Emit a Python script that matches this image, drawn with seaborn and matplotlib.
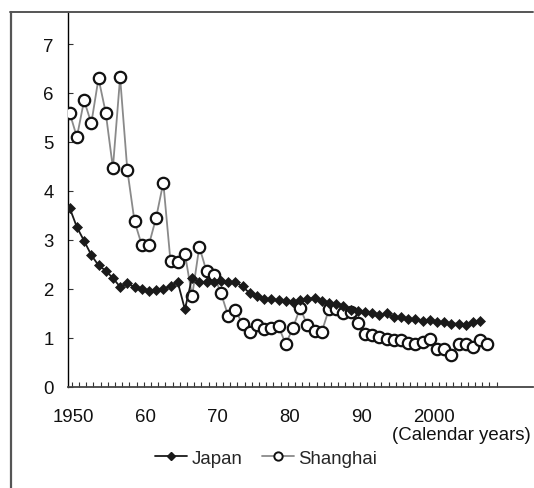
import matplotlib
matplotlib.use("Agg")
import matplotlib.pyplot as plt
import matplotlib.transforms as mtransforms
from matplotlib.lines import Line2D
import numpy as np
import pandas as pd
import seaborn as sns

# Total fertility rate by calendar year
japan_years = list(range(1950, 2008))
japan_tfr = [3.65, 3.26, 2.98, 2.69, 2.48, 2.37, 2.22, 2.04, 2.11, 2.04,
             2.00, 1.96, 1.98, 2.00, 2.05, 2.14, 1.58, 2.23, 2.13, 2.13,
             2.13, 2.16, 2.14, 2.14, 2.05, 1.91, 1.85, 1.80, 1.79, 1.77,
             1.75, 1.74, 1.77, 1.80, 1.81, 1.76, 1.72, 1.69, 1.66, 1.57,
             1.54, 1.53, 1.50, 1.46, 1.50, 1.42, 1.43, 1.39, 1.38, 1.34,
             1.36, 1.33, 1.32, 1.29, 1.29, 1.26, 1.32, 1.34]

shanghai_years = list(range(1950, 2009))
shanghai_tfr = [5.59, 5.10, 5.85, 5.38, 6.30, 5.60, 4.47, 6.32, 4.43, 3.38,
                2.90, 2.90, 3.45, 4.17, 2.56, 2.55, 2.72, 1.85, 2.86, 2.36,
                2.28, 1.92, 1.45, 1.56, 1.29, 1.12, 1.26, 1.18, 1.20, 1.24,
                0.87, 1.20, 1.61, 1.26, 1.14, 1.12, 1.58, 1.58, 1.50, 1.52,
                1.31, 1.07, 1.05, 1.01, 0.97, 0.95, 0.95, 0.90, 0.87, 0.92,
                0.97, 0.78, 0.77, 0.65, 0.88, 0.88, 0.82, 0.95, 0.88]

x_tick_years = [1950, 1960, 1970, 1980, 1990, 2000]
x_tick_labels = ["1950", "60", "70", "80", "90", "2000"]
y_ticks = [0, 1, 2, 3, 4, 5, 6, 7]

FS = 13.4
sns.set_theme(style="white")
plt.rcParams["font.family"] = ["Liberation Sans", "DejaVu Sans"]
plt.rcParams["font.size"] = FS

W, H = 534, 489
fig = plt.figure(figsize=(W / 100, H / 100), dpi=100)
ax = fig.add_axes([67.5 / W, 1 - 387.8 / H, (533 - 67.5) / W, (387.8 - 12.7) / H])

df_sh = pd.DataFrame({"year": shanghai_years, "tfr": shanghai_tfr})
df_jp = pd.DataFrame({"year": japan_years, "tfr": japan_tfr})

sns.lineplot(data=df_sh, x="year", y="tfr", ax=ax, color="#8a8a8a", lw=1.3,
             marker="o", markersize=8.2, markerfacecolor="white",
             markeredgecolor="#111111", markeredgewidth=1.6, zorder=3)
sns.lineplot(data=df_jp, x="year", y="tfr", ax=ax, color="#1a1a1a", lw=1.3,
             marker="D", markersize=4.6, markerfacecolor="#1a1a1a",
             markeredgecolor="#1a1a1a", markeredgewidth=0.5, zorder=4)

px_per_year = 7.2
x_left = 1950 + (67.5 - 69.7) / px_per_year
x_right = 1950 + (533 - 69.7) / px_per_year
ax.set_xlim(x_left, x_right)
ax.set_ylim(0, 7 * (387.8 - 12.7) / (387.8 - 45))

ax.set_xlabel("")
ax.set_ylabel("")

ax.set_yticks(y_ticks)
ax.set_yticklabels([str(v) for v in y_ticks])
ax.tick_params(axis="y", direction="in", length=3.5, width=0.8, color="#333333",
               pad=10, labelsize=FS, labelcolor="#111111", left=True)

ax.set_xticks(x_tick_years)
ax.set_xticklabels(x_tick_labels)
ax.set_xticks([y + 0.3 for y in range(1950, 2010)], minor=True)
ax.tick_params(axis="x", which="major", length=0, pad=15, labelsize=FS,
               labelcolor="#111111")
ax.tick_params(axis="x", which="minor", direction="in", length=3.5, width=0.8,
               color="#333333", bottom=True)
shift = mtransforms.ScaledTranslation(4 / 100, 0, fig.dpi_scale_trans)
for lab in ax.get_xticklabels():
    lab.set_transform(lab.get_transform() + shift)

for side in ("top", "right"):
    ax.spines[side].set_visible(False)
ax.spines["left"].set_color("#000000")
ax.spines["left"].set_linewidth(1.0)
ax.spines["bottom"].set_color("#444444")
ax.spines["bottom"].set_linewidth(1.3)
ax.grid(False)

fig.text(531 / W, 1 - 436 / H, "(Calendar years)", ha="right", va="center",
         fontsize=FS, color="#111111")

handles = [
    Line2D([], [], color="#1a1a1a", lw=1.3, marker="D", markersize=4,
           markerfacecolor="#1a1a1a", markeredgecolor="#1a1a1a"),
    Line2D([], [], color="#8a8a8a", lw=1.3, marker="o", markersize=6,
           markerfacecolor="white", markeredgecolor="#111111", markeredgewidth=1.4),
]
fig.legend(handles, ["Japan", "Shanghai"], loc="center left",
           bbox_to_anchor=(155 / W, 1 - 459 / H), ncol=2, frameon=False,
           handlelength=1.74, handletextpad=0.25, columnspacing=1.0,
           borderpad=0, borderaxespad=0, fontsize=FS)

# outer frame (top and left edges)
frame_col = "#555555"
fig.add_artist(Line2D([10 / W, 533 / W], [1 - 12.5 / H, 1 - 12.5 / H],
                      transform=fig.transFigure, color=frame_col, lw=1.4))
fig.add_artist(Line2D([10.5 / W, 10.5 / W], [1 - 12.5 / H, 0],
                      transform=fig.transFigure, color=frame_col, lw=1.6))

fig.savefig("out.png", dpi=100)
